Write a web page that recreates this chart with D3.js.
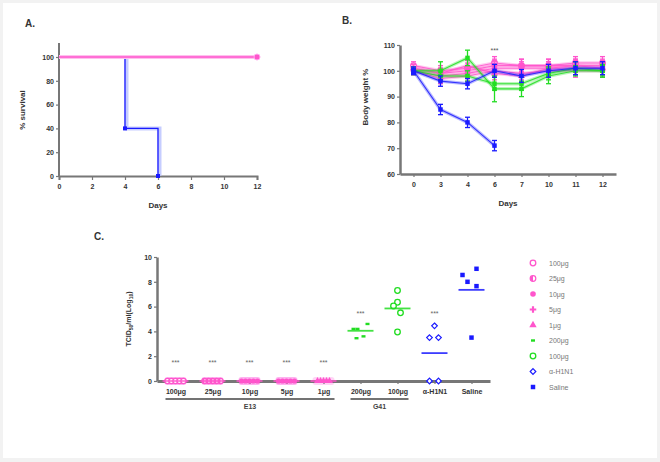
<!DOCTYPE html>
<html><head><meta charset="utf-8">
<script src="https://cdn.jsdelivr.net/npm/d3@7"></script>
<style>
body{margin:0;background:#f2f2f2;}
svg{display:block;font-family:"Liberation Sans",Arial,sans-serif;}
</style></head><body>
<svg id="c" width="660" height="462"></svg>
<script>
// ---------- DATA ----------
// Panel A: survival
const survDaysPink = [0, 12];
const survPink = [100, 100];
const survDaysBlue = [0, 4, 4, 6, 6];
const survBlue = [100, 100, 40, 40, 0];
const survXTicks = [0, 2, 4, 6, 8, 10, 12];
const survYTicks = [0, 20, 40, 60, 80, 100];

// Panel B: body weight
const bwDays = ["0", "3", "4", "6", "7", "10", "11", "12"];
const bwYTicks = [60, 70, 80, 90, 100, 110];
const bw100 = [102, 100, 101, 103, 102, 102, 103, 103];
const bw25 = [101, 99, 100, 102, 102, 102, 102, 102];
const bw10 = [100, 98, 99, 101, 101, 101, 101, 101];
const bw5 = [100, 97, 98, 100, 99, 100, 100, 100];
const bw1 = [101, 99, 102, 99, 98, 101, 102, 101];
const bwG200 = [100, 100, 105, 93, 93, 98, 100, 100];
const bwG100 = [100, 98, 98, 95, 95, 99, 101, 100];
const bwAnti = [100, 96, 95, 100, 98, 100, 101, 101];
const bwSaline = [100, 85, 80, 71];
const bwErr = [1.5, 2, 2, 2.5, 2.5, 2.5, 2.5, 2.5];
const bwErrG200 = [1, 3.5, 3, 5, 3, 3, 2, 2];
const bwErrSaline = [1, 2, 2, 2];

// Panel C: virus titres
const titreCats = ["100μg", "25μg", "10μg", "5μg", "1μg", "200μg ", "100μg ", "α-H1N1", "Saline"];
const titreYTicks = [0, 2, 4, 6, 8, 10];
const titreE100 = [0, 0, 0, 0, 0];
const titreE25 = [0, 0, 0, 0, 0];
const titreE10 = [0, 0, 0, 0, 0];
const titreE5 = [0, 0, 0, 0, 0];
const titreE1 = [0, 0, 0, 0, 0];
const titreG200 = [4.2, 4.2, 4.6, 3.45, 3.6];
const titreG100 = [7.3, 6.35, 6.05, 5.5, 3.95];
const titreAnti = [4.45, 3.5, 3.5, 0, 0];
const titreSaline = [8.55, 9.05, 8.0, 7.65, 3.5];
const titreMeans = [0, 0, 0, 0, 0, 4.05, 5.85, 2.25, 7.35];
const sigLevel = [1.5, 1.5, 1.5, 1.5, 1.5, 5.5, null, 5.5, null];

const legendLabels = ["100μg", "25μg", "10μg", "5μg", "1μg", "200μg", "100μg", "α-H1N1", "Saline"];

// ---------- STYLE ----------
const PINK = "#ff55cc", GREEN = "#22dd22", BLUE = "#1a1aff";
const AX = "#777";
const svg = d3.select("#c");
svg.append("rect").attr("x", 3).attr("y", 3).attr("width", 654).attr("height", 455).attr("fill", "#fff");

function styleAxis(g, w) {
  g.select(".domain").attr("stroke", AX).attr("stroke-width", w || 2);
  g.selectAll(".tick line").attr("stroke", AX).attr("stroke-width", 1.2);
  g.selectAll(".tick text").attr("fill", "#333").attr("font-size", 7).attr("font-weight", "bold");
}
function label(x, y, t, size, rot) {
  const e = svg.append("text").attr("x", x).attr("y", y).attr("text-anchor", "middle")
    .attr("font-size", size || 9).attr("font-weight", "bold").attr("fill", "#333").text(t);
  if (rot) e.attr("transform", `rotate(-90,${x},${y})`);
  return e;
}
function drawMarker(x, y, m, c, r) {
  const g = svg.append("g");
  if (m === "circleOpen") g.append("circle").attr("cx", x).attr("cy", y).attr("r", r).attr("fill", "#fff").attr("stroke", c).attr("stroke-width", 1.3);
  else if (m === "circle") g.append("circle").attr("cx", x).attr("cy", y).attr("r", r).attr("fill", c);
  else if (m === "halfCircle") { g.append("circle").attr("cx", x).attr("cy", y).attr("r", r).attr("fill", "#fff").attr("stroke", c).attr("stroke-width", 1.2);
    g.append("path").attr("d", `M${x},${y - r}A${r},${r} 0 0 0 ${x},${y + r}Z`).attr("fill", c); }
  else if (m === "square") g.append("rect").attr("x", x - r * 0.8).attr("y", y - r * 0.8).attr("width", r * 1.6).attr("height", r * 1.6).attr("fill", c);
  else if (m === "squareSmall") g.append("rect").attr("x", x - 2).attr("y", y - 1.2).attr("width", 4).attr("height", 2.4).attr("fill", c);
  else if (m === "diamond") g.append("path").attr("d", `M${x},${y - r}L${x + r},${y}L${x},${y + r}L${x - r},${y}Z`).attr("fill", "#fff").attr("stroke", c).attr("stroke-width", 1.2);
  else if (m === "tri") g.append("path").attr("d", d3.symbol(d3.symbolTriangle, r * r * 3)()).attr("transform", `translate(${x},${y})`).attr("fill", c);
  else if (m === "hex") g.append("path").attr("d", d3.symbol(d3.symbolCross, r * r * 3)()).attr("transform", `translate(${x},${y})`).attr("fill", c);
}

// ---------- PANEL A ----------
const ax = d3.scaleLinear().domain([0, 12]).range([59, 257]);
const ay = d3.scaleLinear().domain([0, 100]).range([176, 57]);
svg.append("line").attr("x1", 59).attr("x2", 59).attr("y1", 43).attr("y2", 176).attr("stroke", AX).attr("stroke-width", 2);
const gAx = svg.append("g").attr("transform", "translate(0,176)").call(d3.axisBottom(ax).tickValues(survXTicks).tickSize(4).tickPadding(4));
styleAxis(gAx);
const gAy = svg.append("g").attr("transform", "translate(59,0)").call(d3.axisLeft(ay).tickValues(survYTicks).tickSize(3).tickPadding(2));
styleAxis(gAy);
gAy.select(".domain").remove();
const lineA = d3.line().x(d => ax(d[0])).y(d => ay(d[1]));
const pinkPts = survDaysPink.map((d, i) => [d, survPink[i]]);
const bluePts = survDaysBlue.map((d, i) => [d, survBlue[i]]);
svg.append("path").attr("d", lineA(bluePts)).attr("fill", "none").attr("stroke", "#b8c0ff").attr("stroke-opacity", 0.8).attr("stroke-width", 4).attr("transform", "translate(1.5,0)");
svg.append("path").attr("d", lineA(bluePts)).attr("fill", "none").attr("stroke", BLUE).attr("stroke-width", 1.3);
svg.append("path").attr("d", lineA(pinkPts)).attr("fill", "none").attr("stroke", "#ffc0ee").attr("stroke-width", 4);
svg.append("path").attr("d", lineA(pinkPts)).attr("fill", "none").attr("stroke", PINK).attr("stroke-width", 1.5);
svg.append("circle").attr("cx", ax(12)).attr("cy", ay(100)).attr("r", 3).attr("fill", PINK).attr("stroke", "#ffaaee");
[[4, 40], [6, 0]].forEach(p => svg.append("rect").attr("x", ax(p[0]) - 2).attr("y", ay(p[1]) - 2).attr("width", 4).attr("height", 4).attr("fill", BLUE));
label(158, 208, "Days", 8);
label(25, 110, "% survival", 8, true);
label(30, 27, "A.", 10);

// ---------- PANEL B ----------
const bx = d3.scalePoint().domain(bwDays).range([400, 616]).padding(0.5);
const by = d3.scaleLinear().domain([60, 110]).range([174, 45]);
const gBx = svg.append("g").attr("transform", "translate(0,174)").call(d3.axisBottom(bx).tickSize(3).tickPadding(5).tickSizeOuter(0));
styleAxis(gBx, 2.5);
const gBy = svg.append("g").attr("transform", "translate(400,0)").call(d3.axisLeft(by).tickValues(bwYTicks).tickSize(3).tickPadding(2).tickSizeOuter(0));
styleAxis(gBy, 2.5);
const series = [
  {v: bw100, c: PINK, e: bwErr, m: "circleOpen"},
  {v: bw25, c: PINK, e: bwErr, m: "circle"},
  {v: bw10, c: PINK, e: bwErr, m: "circle"},
  {v: bw5, c: PINK, e: bwErr, m: "circle"},
  {v: bw1, c: PINK, e: bwErr, m: "tri"},
  {v: bwG200, c: GREEN, e: bwErrG200, m: "square"},
  {v: bwG100, c: GREEN, e: bwErr, m: "square"},
  {v: bwAnti, c: BLUE, e: bwErr, m: "square"},
  {v: bwSaline, c: BLUE, e: bwErrSaline, m: "square"}
];
const lineB = d3.line().x(d => bx(d[0])).y(d => by(d[1]));
series.forEach(s => {
  const pts = s.v.map((v, i) => [bwDays[i], v]);
  svg.append("path").attr("d", lineB(pts)).attr("fill", "none").attr("stroke", s.c).attr("stroke-opacity", 0.3).attr("stroke-width", 3.5);
  svg.append("path").attr("d", lineB(pts)).attr("fill", "none").attr("stroke", s.c).attr("stroke-opacity", 0.85).attr("stroke-width", 1.1);
  pts.forEach((p, i) => {
    const x = bx(p[0]), y1 = by(p[1] - s.e[i]), y2 = by(p[1] + s.e[i]);
    const g = svg.append("g").attr("stroke", s.c).attr("stroke-width", 1.3);
    g.append("line").attr("x1", x).attr("x2", x).attr("y1", y1).attr("y2", y2);
    g.append("line").attr("x1", x - 2.5).attr("x2", x + 2.5).attr("y1", y1).attr("y2", y1);
    g.append("line").attr("x1", x - 2.5).attr("x2", x + 2.5).attr("y1", y2).attr("y2", y2);
    drawMarker(x, by(p[1]), s.m, s.c, 2.8);
  });
});
svg.append("text").attr("x", bx("6")).attr("y", by(108) + 3).attr("text-anchor", "middle").attr("font-size", 7).attr("fill", "#555").text("***");
label(508, 206, "Days", 8);
label(368, 97, "Body weight %", 8, true);
label(347, 24, "B.", 10);

// ---------- PANEL C ----------
const cx = d3.scalePoint().domain(titreCats).range([157, 490]).padding(0.5);
const cy = d3.scaleLinear().domain([0, 10]).range([381, 257]);
const gCy = svg.append("g").attr("transform", "translate(157,0)").call(d3.axisLeft(cy).tickValues(titreYTicks).tickSize(3).tickPadding(2).tickSizeOuter(0));
styleAxis(gCy, 2.5);
const groups = [
  {v: titreE100, c: PINK, m: "circleOpen"},
  {v: titreE25, c: PINK, m: "halfCircle"},
  {v: titreE10, c: PINK, m: "circle"},
  {v: titreE5, c: PINK, m: "circle"},
  {v: titreE1, c: PINK, m: "tri"},
  {v: titreG200, c: GREEN, m: "squareSmall"},
  {v: titreG100, c: GREEN, m: "circleOpen"},
  {v: titreAnti, c: BLUE, m: "diamond"},
  {v: titreSaline, c: BLUE, m: "square"}
];
const offsets = {
  0: [-8, -4, 0, 4, 8], 1: [-8, -4, 0, 4, 8], 2: [-8, -4, 0, 4, 8], 3: [-8, -4, 0, 4, 8], 4: [-6, -3, 0, 3, 6],
  5: [-7, -3, 7, -4, 3], 6: [0, 0, -4, 3, 0], 7: [0, -5, 4, -5, 4], 8: [-9, 5, -4, 5, 0]
};
groups.forEach((g, gi) => {
  const x0 = cx(titreCats[gi]);
  if (gi < 5) svg.append("rect").attr("x", x0 - 11).attr("y", cy(0) - 4).attr("width", 22).attr("height", 8).attr("rx", 3).attr("fill", "#ffaaee").attr("opacity", gi === 4 ? 0.5 : 0.9);
});
const gCx = svg.append("g").attr("transform", "translate(0,381)").call(d3.axisBottom(cx).tickSize(3).tickPadding(5).tickSizeOuter(0));
styleAxis(gCx, 3);
groups.forEach((g, gi) => {
  const x0 = cx(titreCats[gi]);
  g.v.forEach((v, i) => drawMarker(x0 + offsets[gi][i], cy(v), g.m, g.c, gi < 5 ? 2.6 : 2.8));
  svg.append("line").attr("x1", x0 - 13).attr("x2", x0 + 13).attr("y1", cy(titreMeans[gi])).attr("y2", cy(titreMeans[gi]))
    .attr("stroke", g.c).attr("stroke-width", 1.8).attr("stroke-opacity", gi < 5 ? 0.8 : 0.85);
  if (sigLevel[gi] !== null) svg.append("text").attr("x", x0).attr("y", cy(sigLevel[gi]) + 3).attr("text-anchor", "middle").attr("font-size", 7).attr("fill", "#666").text("***");
});
[[0, 4, "E13"], [5, 6, "G41"]].forEach(b => {
  const x1 = cx(titreCats[b[0]]) - 10, x2 = cx(titreCats[b[1]]) + 11;
  svg.append("line").attr("x1", x1).attr("x2", x2).attr("y1", 399).attr("y2", 399).attr("stroke", "#444").attr("stroke-width", 1.5);
  svg.append("text").attr("x", (x1 + x2) / 2).attr("y", 409).attr("text-anchor", "middle").attr("font-size", 7).attr("font-weight", "bold").attr("fill", "#444").text(b[2]);
});
const yl = svg.append("text").attr("transform", "translate(131,319) rotate(-90)").attr("text-anchor", "middle")
  .attr("font-size", 7).attr("font-weight", "bold").attr("fill", "#333");
yl.append("tspan").text("TCID");
yl.append("tspan").attr("font-size", 5).attr("dy", 2).text("50");
yl.append("tspan").attr("dy", -2).text("/ml(Log");
yl.append("tspan").attr("font-size", 5).attr("dy", 2).text("10");
yl.append("tspan").attr("dy", -2).text(")");
label(99, 240, "C.", 10);

const legMarkers = ["circleOpen", "halfCircle", "circle", "hex", "tri", "squareSmall", "circleOpen", "diamond", "square"];
const legColors = [PINK, PINK, PINK, PINK, PINK, GREEN, GREEN, BLUE, BLUE];
legendLabels.forEach((t, i) => {
  const y = 263 + i * 15.5;
  drawMarker(533, y, legMarkers[i], legColors[i], 2.8);
  svg.append("text").attr("x", 549).attr("y", y + 2.5).attr("font-size", 7).attr("fill", "#777").text(t);
});
</script>
</body></html>
